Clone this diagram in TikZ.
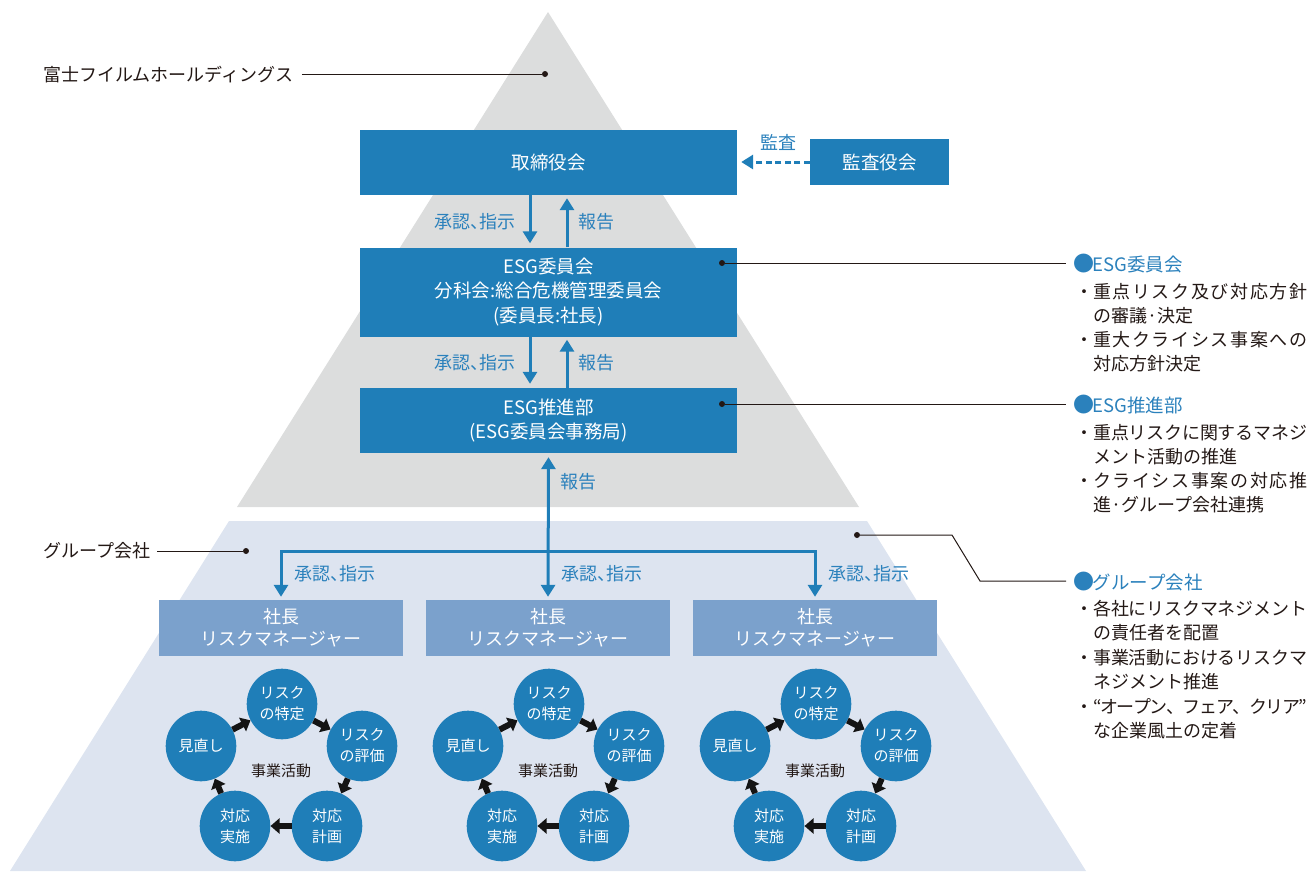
\documentclass[tikz,border=0pt]{standalone}
\usepackage{fontspec}
\setmainfont{Noto Sans CJK JP}
\usetikzlibrary{arrows.meta,calc}
\definecolor{boxblue}{HTML}{1F7EB8}
\definecolor{lightbox}{HTML}{7BA1CC}
\definecolor{greytri}{HTML}{DCDDDD}
\definecolor{paleblue}{HTML}{DDE4F0}
\definecolor{lblblue}{HTML}{2B81BC}
\definecolor{ink}{HTML}{231815}
\newcommand\jfs[2]{\fontsize{#1}{#2}\selectfont}
\makeatletter
\def\jsp#1{#1\futurelet\jnext\jspaux}
\def\jspaux{\ifx\jnext\relax\expandafter\@gobble\else\hskip 0pt plus 1fil minus 1fil\relax\expandafter\jsp\fi}
\makeatother
\newcommand\jl[1]{\hbox to 214pt{\jsp#1\relax}}
\newcommand\bigdot{{\jfs{21}{22}\raisebox{-0.5pt}{●}}\kern-1.5pt}
\begin{document}
\begin{tikzpicture}[x=1pt,y=-1pt,
  darkbox/.style={fill=boxblue,text=white,inner sep=0pt,font=\jfs{18.5}{24.5},align=center},
  litebox/.style={fill=lightbox,text=white,inner sep=0pt,font=\jfs{18}{22},align=center,minimum width=244pt,minimum height=56pt},
  lbl/.style={text=lblblue,font=\jfs{18}{22},inner sep=0pt},
  lbk/.style={text=ink,font=\jfs{18}{22},inner sep=0pt,anchor=west},
  head/.style={text=lblblue,font=\jfs{18.5}{22},inner sep=0pt,anchor=west},
  body/.style={text=ink,font=\jfs{18}{22},inner sep=0pt,anchor=west},
  barrow/.style={draw=boxblue,line width=3pt,-{Triangle[width=14pt,length=12pt]}},
  circ/.style={circle,fill=boxblue,text=white,minimum size=70.6pt,inner sep=0pt,font=\jfs{15}{21},align=center},
  inkt/.style={text=ink,font=\jfs{15}{20},inner sep=0pt},
  cyc/.style={draw=black!92,line width=6pt,-{Triangle[width=15pt,length=9pt]}},
  leader/.style={draw=ink,line width=1pt},
  dot/.style={circle,fill=ink,inner sep=0pt,minimum size=6pt}
]
\useasboundingbox (0,0) rectangle (1310,871);
% background shapes
\fill[paleblue] (229,521) -- (867,521) -- (1086,871) -- (10,871) -- cycle;
\fill[greytri] (548,12) -- (859,507) -- (237,507) -- cycle;

% main boxes
\node[darkbox,minimum width=377pt,minimum height=65pt] (board) at (548.5,162.5) {取締役会};
\node[darkbox,minimum width=377pt,minimum height=89pt] (comm) at (548.5,292) {ESG委員会\\分科会:総合危機管理委員会\\(委員長:社長)};
\node[darkbox,minimum width=377pt,minimum height=65pt] (prom) at (548.5,420.5) {ESG推進部\\(ESG委員会事務局)};
\node[darkbox,minimum width=139pt,minimum height=46pt] (audit) at (879.5,162) {監査役会};

% arrows between top boxes
\coordinate (xd) at (530,0);
\coordinate (xu) at (567,0);
\draw[barrow,shorten >=4pt] (board.south -| xd) -- (comm.north -| xd);
\draw[barrow,shorten >=3pt] (comm.north -| xu) -- (board.south -| xu);
\draw[barrow,shorten >=4pt] (comm.south -| xd) -- (prom.north -| xd);
\draw[barrow,shorten >=3pt] (prom.north -| xu) -- (comm.south -| xu);
\draw[barrow,dash pattern=on 6pt off 3.5pt,shorten >=4pt] (audit.west) -- (board.east |- audit.west);

\node[lbl] (l1) at (475,222) {承認、\kern-.45em指示};
\node[lbl] (l2) at (596,222) {報告};
\node[lbl] (l3) at (475,363) {承認、\kern-.45em指示};
\node[lbl] (l4) at (596,363) {報告};
\node[lbl] (l5) at (778,142) {監査};
\node[lbl] (l6) at (578,482) {報告};

% group companies
\foreach \g/\cx in {1/281,2/548,3/815}{
  \pgfmathsetmacro\dx{\cx-281}
  \node[litebox] (pres\g) at (\cx,628) {社長\\リスクマネージャー};
  \node[lbl] (ap\g) at (\cx+54,574) {承認、\kern-.45em指示};
  \node[circ] (to\g) at (282+\dx,704) {リスク\\の特定};
  \node[circ] (hy\g) at (362+\dx,746) {リスク\\の評価};
  \node[circ] (ke\g) at (327+\dx,826) {対応\\計画};
  \node[circ] (ji\g) at (235+\dx,826) {対応\\実施};
  \node[circ] (mi\g) at (201+\dx,746) {見直し};
  \node[inkt] (act\g) at (281+\dx,771) {事業活動};
  \draw[cyc] (mi\g) -- (to\g);
  \draw[cyc] (to\g) -- (hy\g);
  \draw[cyc] (hy\g) -- (ke\g);
  \draw[cyc] (ke\g) -- (ji\g);
  \draw[cyc] (ji\g) -- (mi\g);
}
\coordinate (br) at (548,551);
\draw[barrow,{Triangle[width=14pt,length=12pt]}-{Triangle[width=14pt,length=12pt]},shorten <=4pt,shorten >=3pt] (prom.south) -- (pres2.north);
\draw[barrow,shorten >=3pt] (br) -| (pres1.north);
\draw[barrow,shorten >=3pt] (br) -| (pres3.north);

% left labels with leaders
\node[lbk] (fuji) at (43,75) {富士フイルムホールディングス};
\node[dot] (dfuji) at (545,74) {};
\draw[leader,shorten <=8pt] (fuji.east |- dfuji) -- (dfuji);
\node[lbk] (grp) at (43,551) {グループ会社};
\node[dot] (dgrp) at (246,551) {};
\draw[leader,shorten <=7pt] (grp.east |- dgrp) -- (dgrp);

% right leaders
\node[dot] (dcomm) at (722,263) {};
\node[dot] (dprom) at (722,404) {};
\node[dot] (dgc) at (857,535) {};
\coordinate (e1) at (1066,263);
\coordinate (e2) at (1066,404);
\coordinate (g1) at (952,535);
\coordinate (g2) at (980,581);
\coordinate (e3) at (1066,581);
\draw[leader] (dcomm) -- (e1);
\draw[leader] (dprom) -- (e2);
\draw[leader] (dgc) -- (g1) -- (g2) -- (e3);

% right column text
\node[head] (h1) at (1073,264) {\bigdot ESG委員会};
\node[body] (t11) at (1075,292) {・\jl{重点リスク及び対応方針}};
\node[body] (t12) at (1093,316) {の審議·決定};
\node[body] (t13) at (1075,340) {・\jl{重大クライシス事案への}};
\node[body] (t14) at (1093,364) {対応方針決定};

\node[head] (h2) at (1073,405) {\bigdot ESG推進部};
\node[body] (t21) at (1075,433) {・\jl{重点リスクに関するマネジ}};
\node[body] (t22) at (1093,457) {メント活動の推進};
\node[body] (t23) at (1075,481) {・\jl{クライシス事案の対応推}};
\node[body] (t24) at (1093,505) {進·グループ会社連携};

\node[head] (h3) at (1073,582) {\bigdot グループ会社};
\node[body] (t31) at (1075,609) {・\jl{各社にリスクマネジメント}};
\node[body] (t32) at (1093,633) {の責任者を配置};
\node[body] (t33) at (1075,658) {・\jl{事業活動におけるリスクマ}};
\node[body] (t34) at (1093,682) {ネジメント推進};
\node[body] (t35) at (1075,707) {・\jl{“オープン、フェア、クリア”}};
\node[body] (t36) at (1093,731) {な企業風土の定着};
\end{tikzpicture}
\end{document}
